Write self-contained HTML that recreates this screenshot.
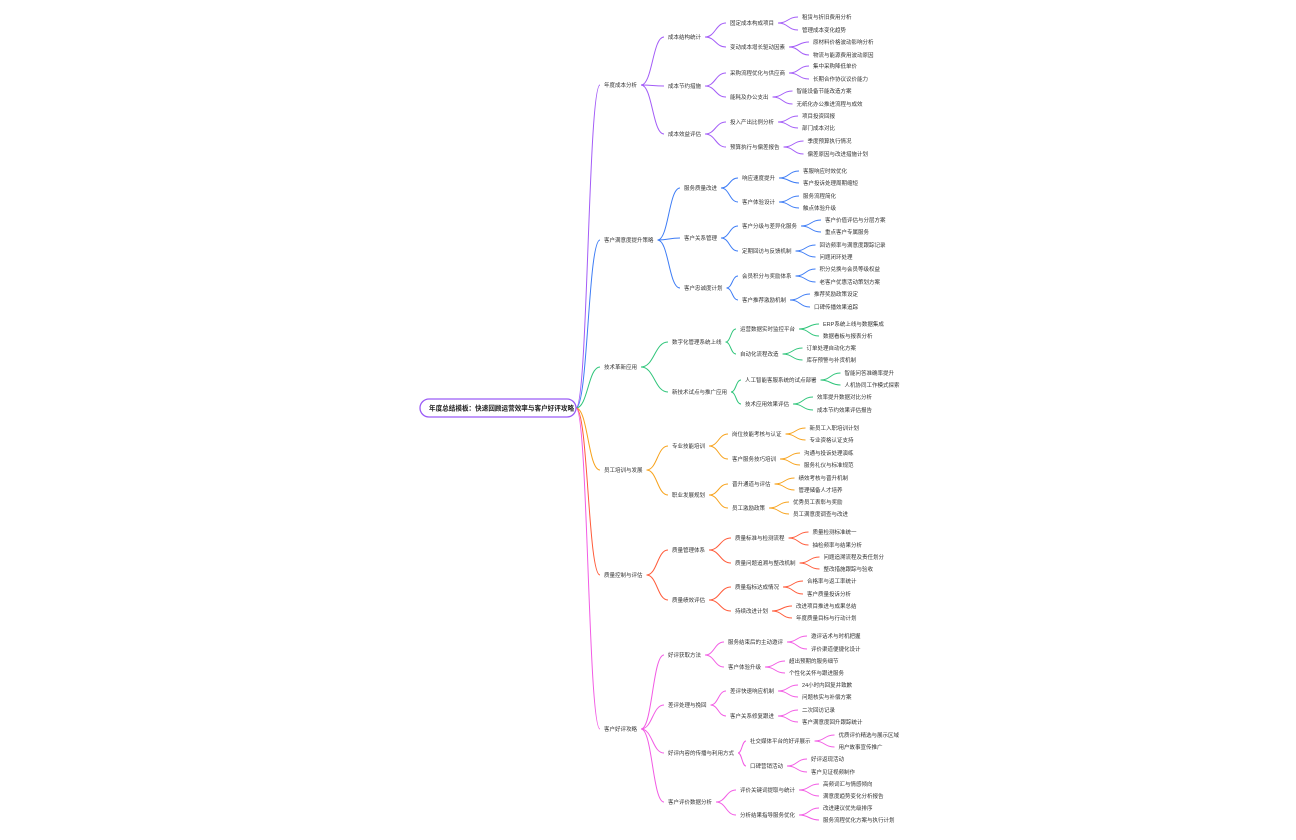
<!DOCTYPE html>
<html><head><meta charset="utf-8">
<style>
html,body{margin:0;padding:0;background:#fff;width:1296px;height:840px;overflow:hidden}
svg text{font-family:"Liberation Sans","Noto Sans CJK SC",sans-serif;font-size:5.5px;fill:#333}
svg .root{font-size:6.6px;fill:#222;font-weight:bold}
</style></head><body>
<svg id="s" width="1296" height="840" viewBox="0 0 1296 840">
<g id="lines" fill="none" stroke-width="1"></g>
<rect x="420" y="399" width="156" height="18" rx="9" fill="#fff" stroke="#9b5cf6" stroke-width="1.3"/>
<text class="root" x="429" y="410.5">年度总结模板：快速回顾运营效率与客户好评攻略</text>
<g id="tree">
<g class="n" data-c="#a35cf7"><text x="604" y="87">年度成本分析</text>
 <g class="n"><text x="668" y="39">成本结构统计</text>
  <g class="n"><text x="730" y="25">固定成本构成项目</text><g class="n"><text y="19">租赁与折旧费用分析</text></g><g class="n"><text y="32">管理成本变化趋势</text></g></g>
  <g class="n"><text x="730" y="49">变动成本增长驱动因素</text><g class="n"><text y="44">原材料价格波动影响分析</text></g><g class="n"><text y="57">物流与能源费用波动原因</text></g></g>
 </g>
 <g class="n"><text x="668" y="88">成本节约措施</text>
  <g class="n"><text x="730" y="75">采购流程优化与供应商</text><g class="n"><text y="68">集中采购降低单价</text></g><g class="n"><text y="81">长期合作协议议价能力</text></g></g>
  <g class="n"><text x="730" y="99">能耗及办公支出</text><g class="n"><text y="93">智能设备节能改造方案</text></g><g class="n"><text y="106">无纸化办公推进流程与成效</text></g></g>
 </g>
 <g class="n"><text x="668" y="136">成本效益评估</text>
  <g class="n"><text x="730" y="124">投入产出比例分析</text><g class="n"><text y="118">项目投资回报</text></g><g class="n"><text y="130">部门成本对比</text></g></g>
  <g class="n"><text x="730" y="149">预算执行与偏差报告</text><g class="n"><text y="143">季度预算执行情况</text></g><g class="n"><text y="156">偏差原因与改进措施计划</text></g></g>
 </g>
</g>
<g class="n" data-c="#3d7cf5"><text x="604" y="242">客户满意度提升策略</text>
 <g class="n"><text x="684" y="190">服务质量改进</text>
  <g class="n"><text x="742" y="180">响应速度提升</text><g class="n"><text y="173">客服响应时效优化</text></g><g class="n"><text y="185">客户投诉处理周期缩短</text></g></g>
  <g class="n"><text x="742" y="204">客户体验设计</text><g class="n"><text y="198">服务流程简化</text></g><g class="n"><text y="210">触点体验升级</text></g></g>
 </g>
 <g class="n"><text x="684" y="240">客户关系管理</text>
  <g class="n"><text x="742" y="228">客户分级与差异化服务</text><g class="n"><text y="222">客户价值评估与分层方案</text></g><g class="n"><text y="234">重点客户专属服务</text></g></g>
  <g class="n"><text x="742" y="253">定期回访与反馈机制</text><g class="n"><text y="247">回访频率与满意度跟踪记录</text></g><g class="n"><text y="259">问题闭环处理</text></g></g>
 </g>
 <g class="n"><text x="684" y="290">客户忠诚度计划</text>
  <g class="n"><text x="742" y="278">会员积分与奖励体系</text><g class="n"><text y="271">积分兑换与会员等级权益</text></g><g class="n"><text y="284">老客户优惠活动策划方案</text></g></g>
  <g class="n"><text x="742" y="302">客户推荐激励机制</text><g class="n"><text y="296">推荐奖励政策设定</text></g><g class="n"><text y="309">口碑传播效果追踪</text></g></g>
 </g>
</g>
<g class="n" data-c="#2fc57a"><text x="604" y="369">技术革新应用</text>
 <g class="n"><text x="672" y="344">数字化管理系统上线</text>
  <g class="n"><text x="740" y="331">运营数据实时监控平台</text><g class="n"><text y="326">ERP系统上线与数据集成</text></g><g class="n"><text y="338">数据看板与报表分析</text></g></g>
  <g class="n"><text x="740" y="356">自动化流程改造</text><g class="n"><text y="350">订单处理自动化方案</text></g><g class="n"><text y="362">库存预警与补货机制</text></g></g>
 </g>
 <g class="n"><text x="672" y="394">新技术试点与推广应用</text>
  <g class="n"><text x="745" y="382">人工智能客服系统的试点部署</text><g class="n"><text y="375">智能问答准确率提升</text></g><g class="n"><text y="387">人机协同工作模式探索</text></g></g>
  <g class="n"><text x="745" y="406">技术应用效果评估</text><g class="n"><text y="399">效率提升数据对比分析</text></g><g class="n"><text y="412">成本节约效果评估报告</text></g></g>
 </g>
</g>
<g class="n" data-c="#f7a21b"><text x="604" y="472">员工培训与发展</text>
 <g class="n"><text x="672" y="448">专业技能培训</text>
  <g class="n"><text x="732" y="436">岗位技能考核与认证</text><g class="n"><text y="430">新员工入职培训计划</text></g><g class="n"><text y="442">专业资格认证支持</text></g></g>
  <g class="n"><text x="732" y="461">客户服务技巧培训</text><g class="n"><text y="455">沟通与投诉处理演练</text></g><g class="n"><text y="467">服务礼仪与标准规范</text></g></g>
 </g>
 <g class="n"><text x="672" y="497">职业发展规划</text>
  <g class="n"><text x="732" y="486">晋升通道与评估</text><g class="n"><text y="480">绩效考核与晋升机制</text></g><g class="n"><text y="492">管理储备人才培养</text></g></g>
  <g class="n"><text x="732" y="510">员工激励政策</text><g class="n"><text y="504">优秀员工表彰与奖励</text></g><g class="n"><text y="516">员工满意度调查与改进</text></g></g>
 </g>
</g>
<g class="n" data-c="#ff5b3a"><text x="604" y="577">质量控制与评估</text>
 <g class="n"><text x="672" y="552">质量管理体系</text>
  <g class="n"><text x="735" y="540">质量标准与检测流程</text><g class="n"><text y="534">质量检测标准统一</text></g><g class="n"><text y="547">抽检频率与结果分析</text></g></g>
  <g class="n"><text x="735" y="565">质量问题追溯与整改机制</text><g class="n"><text y="559">问题追溯流程及责任划分</text></g><g class="n"><text y="571">整改措施跟踪与验收</text></g></g>
 </g>
 <g class="n"><text x="672" y="602">质量绩效评估</text>
  <g class="n"><text x="735" y="589">质量指标达成情况</text><g class="n"><text y="583">合格率与返工率统计</text></g><g class="n"><text y="596">客户质量投诉分析</text></g></g>
  <g class="n"><text x="735" y="613">持续改进计划</text><g class="n"><text y="608">改进项目推进与成果总结</text></g><g class="n"><text y="620">年度质量目标与行动计划</text></g></g>
 </g>
</g>
<g class="n" data-c="#f25be4"><text x="604" y="731">客户好评攻略</text>
 <g class="n"><text x="668" y="657">好评获取方法</text>
  <g class="n"><text x="728" y="644">服务结束后的主动邀评</text><g class="n"><text y="638">邀评话术与时机把握</text></g><g class="n"><text y="651">评价渠道便捷化设计</text></g></g>
  <g class="n"><text x="728" y="669">客户体验升级</text><g class="n"><text y="663">超出预期的服务细节</text></g><g class="n"><text y="675">个性化关怀与跟进服务</text></g></g>
 </g>
 <g class="n"><text x="668" y="707">差评处理与挽回</text>
  <g class="n"><text x="730" y="693">差评快速响应机制</text><g class="n"><text y="687">24小时内回复并致歉</text></g><g class="n"><text y="699">问题核实与补偿方案</text></g></g>
  <g class="n"><text x="730" y="718">客户关系修复跟进</text><g class="n"><text y="712">二次回访记录</text></g><g class="n"><text y="724">客户满意度回升跟踪统计</text></g></g>
 </g>
 <g class="n"><text x="668" y="755">好评内容的传播与利用方式</text>
  <g class="n"><text x="750" y="743">社交媒体平台的好评展示</text><g class="n"><text y="737">优质评价精选与展示区域</text></g><g class="n"><text y="749">用户故事宣传推广</text></g></g>
  <g class="n"><text x="750" y="768">口碑营销活动</text><g class="n"><text y="761">好评返现活动</text></g><g class="n"><text y="774">客户见证视频制作</text></g></g>
 </g>
 <g class="n"><text x="668" y="804">客户评价数据分析</text>
  <g class="n"><text x="740" y="792">评价关键词提取与统计</text><g class="n"><text y="786">高频词汇与情感倾向</text></g><g class="n"><text y="798">满意度趋势变化分析报告</text></g></g>
  <g class="n"><text x="740" y="817">分析结果指导服务优化</text><g class="n"><text y="810">改进建议优先级排序</text></g><g class="n"><text y="822">服务流程优化方案与执行计划</text></g></g>
 </g>
</g>
</g>
</svg>
<script>
(function(){
var L=document.getElementById('lines');
function path(x1,y1,x2,y2,c){var m=(x1+x2)/2;var p=document.createElementNS('http://www.w3.org/2000/svg','path');
p.setAttribute('d','M'+x1+','+y1+' C'+m+','+y1+' '+m+','+y2+' '+x2+','+y2);p.setAttribute('stroke',c);L.appendChild(p);}
function walk(g,px,py,c,lvl){
 var t=g.querySelector(':scope>text');var y=+t.getAttribute('y');
 var gaps=[0,28,30,26,24];
 var x=t.hasAttribute('x')?+t.getAttribute('x'):px+gaps[lvl];
 t.setAttribute('x',x);
 var w=t.getComputedTextLength();var cy=y-2;
 path(px,py,x-4,cy,c);
 var kids=g.querySelectorAll(':scope>g.n');
 for(var i=0;i<kids.length;i++)walk(kids[i],x+w+4,cy,c,lvl+1);
}
var tops=document.querySelectorAll('#tree>g.n');
for(var i=0;i<tops.length;i++){var c=tops[i].getAttribute('data-c');walk(tops[i],576,408,c,1);}
})();
</script>
</body></html>
